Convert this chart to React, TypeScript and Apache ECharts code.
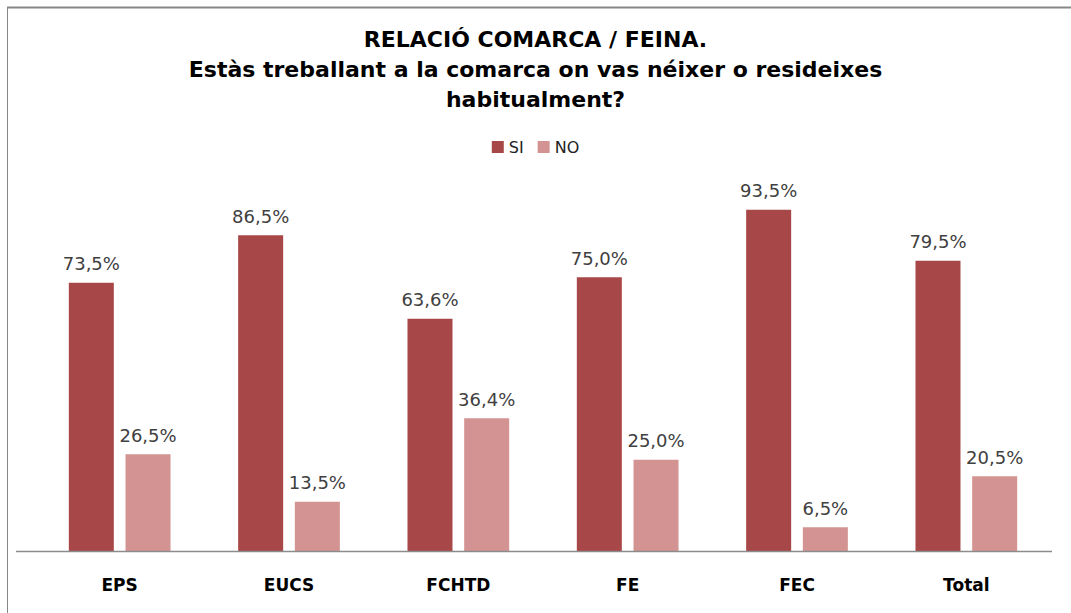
import React, { useEffect, useRef } from "react";
import * as echarts from "echarts";

const categories = ["EPS", "EUCS", "FCHTD", "FE", "FEC", "Total"];
const siValues = [73.5, 86.5, 63.6, 75.0, 93.5, 79.5];
const noValues = [26.5, 13.5, 36.4, 25.0, 6.5, 20.5];
const seriesNames = ["SI", "NO"];
const titleText = "RELACIÓ COMARCA / FEINA.\nEstàs treballant a la comarca on vas néixer o resideixes\nhabitualment?";

const fmt = (v: number) => v.toFixed(1).replace(".", ",") + "%";

export default function App() {
  const ref = useRef<HTMLDivElement>(null);
  useEffect(() => {
    if (!ref.current) return;
    const chart = echarts.init(ref.current, undefined, { renderer: "svg" });
    const labelCfg = {
      show: true,
      position: "top",
      distance: 10,
      fontFamily: "DejaVu Sans",
      fontSize: 18,
      color: "#404040",
      formatter: (p: any) => fmt(p.value),
    };
    chart.setOption({
      animation: false,
      backgroundColor: "#ffffff",
      title: {
        text: titleText,
        left: "center",
        top: 19,
        textStyle: {
          fontFamily: "DejaVu Sans",
          fontWeight: "bold",
          fontSize: 22,
          lineHeight: 30,
          color: "#000000",
        },
      },
      legend: {
        data: seriesNames,
        top: 134,
        left: "center",
        itemWidth: 12,
        itemHeight: 12,
        itemGap: 14,
        icon: "rect",
        textStyle: { fontFamily: "DejaVu Sans", fontSize: 16, color: "#222" },
      },
      grid: { left: 35, right: 20, top: 186, bottom: 62 },
      xAxis: {
        type: "category",
        data: categories,
        axisLine: { show: false },
        axisTick: { show: false },
        axisLabel: {
          margin: 25,
          fontFamily: "DejaVu Sans",
          fontWeight: "bold",
          fontSize: 17,
          color: "#000",
        },
      },
      yAxis: { type: "value", min: 0, max: 100, show: false, splitLine: { show: false } },
      series: [
        {
          name: seriesNames[0],
          type: "bar",
          data: siValues,
          barWidth: 45,
          barGap: "26%",
          itemStyle: { color: "#A84747" },
          label: labelCfg,
        },
        {
          name: seriesNames[1],
          type: "bar",
          data: noValues,
          barWidth: 45,
          itemStyle: { color: "#D39392" },
          label: labelCfg,
        },
      ],
      graphic: [
        { type: "line", shape: { x1: 16, y1: 551.5, x2: 1052, y2: 551.5 }, style: { stroke: "#8c8c8c", lineWidth: 1.5 }, z: 10 },
        { type: "line", shape: { x1: 7, y1: 7.5, x2: 1071, y2: 7.5 }, style: { stroke: "#878787", lineWidth: 2 } },
        { type: "line", shape: { x1: 7.5, y1: 7, x2: 7.5, y2: 613 }, style: { stroke: "#878787", lineWidth: 1 } },
      ],
    });
    return () => chart.dispose();
  }, []);
  return (
    <div
      ref={ref}
      style={{ position: "fixed", left: 0, top: 0, width: 1071, height: 613 }}
    />
  );
}
